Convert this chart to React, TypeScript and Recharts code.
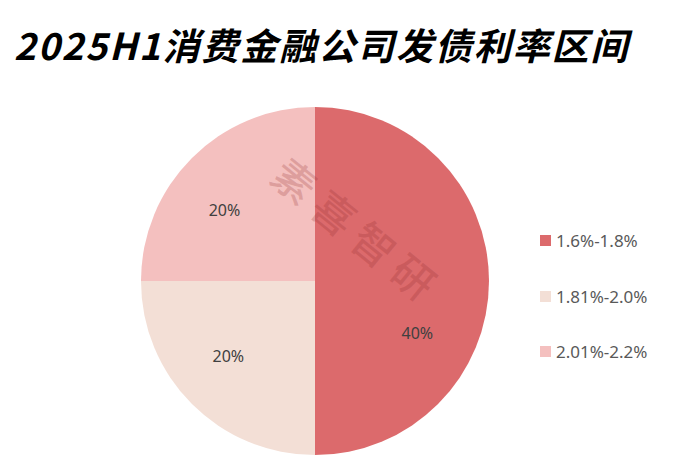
import React from 'react';
import { PieChart, Pie, Cell } from 'recharts';

const categories = ['1.6%-1.8%', '1.81%-2.0%', '2.01%-2.2%'];
const shares = [40, 20, 20];
const colors = ['#dc6a6c', '#f3dfd6', '#f4c0bf'];

const data = categories.map((name, i) => ({ name, value: shares[i] }));

const RADIAN = Math.PI / 180;
// small angle nudges so labels sit where the original places them
const labelNudge = [-27, -4, 7];

const renderLabel = (props: any) => {
  const { cx, cy, midAngle, outerRadius, index, value } = props;
  const a = (midAngle + labelNudge[index]) * RADIAN;
  const r = outerRadius * 0.66;
  const x = cx + r * Math.cos(a);
  const y = cy - r * Math.sin(a);
  return (
    <text x={x} y={y} fill="#404040" fontSize={16} textAnchor="middle" dominantBaseline="central"
      fontFamily="'Noto Sans', sans-serif">
      {value}%
    </text>
  );
};

export default function App() {
  return (
    <div style={{ position: 'relative', width: 687, height: 467, margin: -8, background: '#fff', overflow: 'hidden' }}>
      <div style={{
        position: 'absolute', left: 14, top: 19, fontSize: 37, fontWeight: 700, fontStyle: 'italic',
        letterSpacing: 1.9, fontFamily: "'Noto Sans CJK SC', sans-serif", color: '#000',
        whiteSpace: 'nowrap', lineHeight: '50px',
      }}>
        2025H1消费金融公司发债利率区间
      </div>
      <PieChart width={687} height={467} margin={{ top: 0, right: 0, bottom: 0, left: 0 }}
        style={{ position: 'absolute', left: 0, top: 0 }}>
        <Pie
          data={data}
          dataKey="value"
          nameKey="name"
          cx={315}
          cy={281}
          outerRadius={174}
          startAngle={90}
          endAngle={-270}
          stroke="none"
          label={renderLabel}
          labelLine={false}
          isAnimationActive={false}
        >
          {data.map((d, i) => (
            <Cell key={d.name} fill={colors[i]} />
          ))}
        </Pie>
      </PieChart>
      {/* legend */}
      <div style={{ position: 'absolute', left: 540, top: 213, fontFamily: "'Noto Sans', sans-serif" }}>
        {categories.map((c, i) => (
          <div key={c} style={{ display: 'flex', alignItems: 'center', height: 55.5 }}>
            <span style={{ width: 11, height: 11, background: colors[i], display: 'inline-block', marginRight: 5 }} />
            <span style={{ fontSize: 17, color: '#595959' }}>{c}</span>
          </div>
        ))}
      </div>
      <div style={{
        position: 'absolute', left: 359, top: 230, transform: 'translate(-50%, -50%) rotate(39deg)',
        fontSize: 42, fontWeight: 500, fontFamily: "'Noto Sans CJK SC', sans-serif", color: 'rgba(140, 40, 40, 0.22)',
        whiteSpace: 'nowrap', letterSpacing: 9, pointerEvents: 'none',
      }}>
        素喜智研
      </div>
    </div>
  );
}
